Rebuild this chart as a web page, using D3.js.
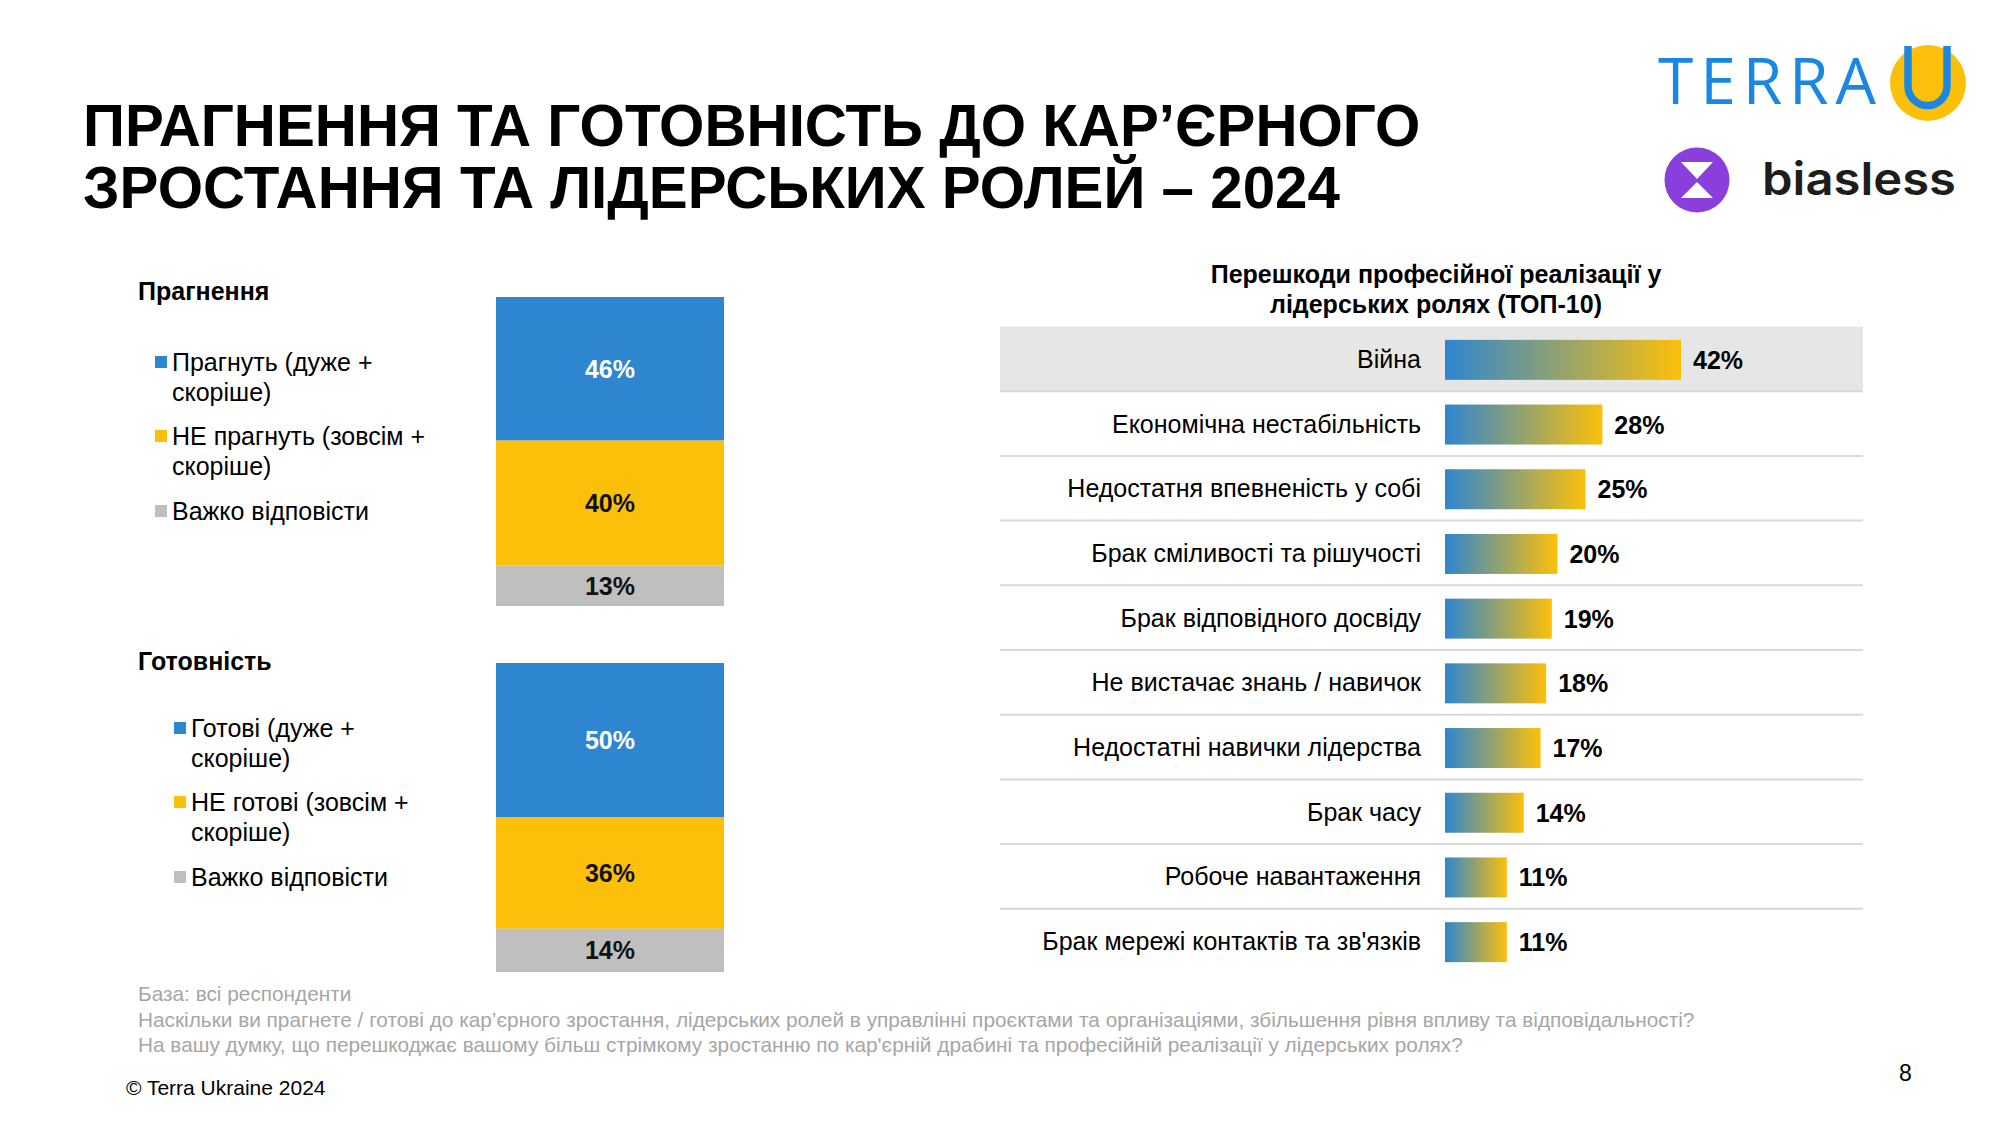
<!DOCTYPE html>
<html><head><meta charset="utf-8">
<script src="https://cdn.jsdelivr.net/npm/d3@7"></script>
<style>
html,body{margin:0;padding:0;background:#fff;}
svg{display:block;font-family:"Liberation Sans",Arial,sans-serif;}
</style></head>
<body>
<svg id="c" width="2000" height="1125"></svg>
<script>
// ---------- DATA ----------
const titleLines = ["ПРАГНЕННЯ ТА ГОТОВНІСТЬ ДО КАР’ЄРНОГО", "ЗРОСТАННЯ ТА ЛІДЕРСЬКИХ РОЛЕЙ – 2024"];
const segKeys = ["yes", "no", "hard"];
const segColors = ["#2e86d0", "#fcc00a", "#bfbfbf"];
const segLabelColors = ["#ffffff", "#111111", "#111111"];

const aspTitle = "Прагнення";
const aspLegend = [["Прагнуть (дуже +", "скоріше)"], ["НЕ прагнуть (зовсім +", "скоріше)"], ["Важко відповісти"]];
const aspValues = [46, 40, 13];

const readyTitle = "Готовність";
const readyLegend = [["Готові (дуже +", "скоріше)"], ["НЕ готові (зовсім +", "скоріше)"], ["Важко відповісти"]];
const readyValues = [50, 36, 14];

const barrTitle = ["Перешкоди професійної реалізації у", "лідерських ролях (ТОП-10)"];
const barrCategories = ["Війна", "Економічна нестабільність", "Недостатня впевненість у собі", "Брак сміливості та рішучості", "Брак відповідного досвіду", "Не вистачає знань / навичок", "Недостатні навички лідерства", "Брак часу", "Робоче навантаження", "Брак мережі контактів та зв'язків"];
const barrValues = [42, 28, 25, 20, 19, 18, 17, 14, 11, 11];

const footnotes = ["База: всі респонденти",
  "Наскільки ви прагнете / готові до кар’єрного зростання, лідерських ролей в управлінні проєктами та організаціями, збільшення рівня впливу та відповідальності?",
  "На вашу думку, що перешкоджає вашому більш стрімкому зростанню по кар'єрній драбині та професійній реалізації у лідерських ролях?"];
const copyright = "© Terra Ukraine 2024";
const pageNum = "8";

// ---------- DRAW ----------
const svg = d3.select("#c");
const defs = svg.append("defs");

// Title
svg.append("g").selectAll("text").data(titleLines).join("text")
  .attr("x", 83).attr("y", (d, i) => 146 + i * 62)
  .attr("font-size", 58.3).attr("font-weight", "bold").attr("fill", "#000")
  .text(d => d);

// Logos
const logo = svg.append("g");
logo.append("text").attr("x", 1658).attr("y", 104).attr("font-family", "'Open Sans', Lato, sans-serif")
  .attr("font-size", 64).attr("font-weight", 500).attr("fill", "#1a88e3")
  .attr("textLength", 218).attr("lengthAdjust", "spacing").text("TERRA");
logo.append("circle").attr("cx", 1928).attr("cy", 83).attr("r", 38).attr("fill", "#fcc00a");
logo.append("path").attr("d", "M1908,46 V86 A19.5,19.5 0 0 0 1947,86 V46")
  .attr("fill", "none").attr("stroke", "#1a88e3").attr("stroke-width", 7.5);
logo.append("circle").attr("cx", 1697).attr("cy", 180).attr("r", 32.5).attr("fill", "#8a3fdc");
logo.append("path").attr("d", "M1681,162 H1713 L1697,179 Z").attr("fill", "#fff");
logo.append("path").attr("d", "M1681,198 H1713 L1697,182 Z").attr("fill", "#fff");
logo.append("text").attr("x", 1762).attr("y", 195).attr("font-family", "Inter, 'Open Sans', sans-serif")
  .attr("font-size", 45).attr("font-weight", 600).attr("fill", "#1d1d1b")
  .attr("textLength", 194).attr("lengthAdjust", "spacingAndGlyphs").text("biasless");

// Stacked bar blocks
function stackBlock(cfg) {
  const g = svg.append("g");
  g.append("text").attr("x", 138).attr("y", cfg.titleY).attr("font-size", 25).attr("font-weight", "bold")
    .attr("fill", "#000").text(cfg.title);
  cfg.legend.forEach((lines, i) => {
    const by = cfg.legendY[i];
    g.append("rect").attr("x", cfg.sqX).attr("y", by - 15).attr("width", 12).attr("height", 12).attr("fill", segColors[i]);
    g.append("text").attr("font-size", 25).attr("fill", "#000")
      .selectAll("tspan").data(lines).join("tspan")
      .attr("x", cfg.sqX + 17).attr("y", (d, j) => by + j * 29.5).text(d => d);
  });
  const row = {}; segKeys.forEach((k, i) => row[k] = cfg.values[i]);
  const series = d3.stack().keys(segKeys).offset(d3.stackOffsetExpand)([row]);
  const y = d3.scaleLinear().domain([0, 1]).range([cfg.top, cfg.bottom]);
  const x = d3.scaleBand().domain([0]).range([496, 724]);
  g.selectAll("rect.seg").data(series).join("rect").attr("class", "seg")
    .attr("x", x(0)).attr("width", x.bandwidth())
    .attr("y", d => y(d[0][0])).attr("height", d => y(d[0][1]) - y(d[0][0]))
    .attr("fill", (d, i) => segColors[i]);
  g.selectAll("text.lab").data(series).join("text").attr("class", "lab")
    .attr("x", x(0) + x.bandwidth() / 2).attr("y", d => (y(d[0][0]) + y(d[0][1])) / 2 + 9)
    .attr("text-anchor", "middle").attr("font-size", 25).attr("font-weight", "bold")
    .attr("fill", (d, i) => segLabelColors[i]).text((d, i) => cfg.values[i] + "%");
}
stackBlock({ title: aspTitle, titleY: 300, legend: aspLegend, legendY: [371, 445, 520], sqX: 155, values: aspValues, top: 297, bottom: 606 });
stackBlock({ title: readyTitle, titleY: 670, legend: readyLegend, legendY: [737, 811, 886], sqX: 174, values: readyValues, top: 663, bottom: 972 });

// Barriers chart
const grad = defs.append("linearGradient").attr("id", "bg").attr("x1", "0").attr("x2", "1").attr("y1", "0").attr("y2", "0");
grad.append("stop").attr("offset", "0%").attr("stop-color", "#2e86d0");
grad.append("stop").attr("offset", "100%").attr("stop-color", "#fcc00a");

const rg = svg.append("g");
rg.append("text").attr("text-anchor", "middle").attr("font-size", 25).attr("font-weight", "bold").attr("fill", "#000")
  .selectAll("tspan").data(barrTitle).join("tspan").attr("x", 1436).attr("y", (d, i) => 283 + i * 29.5).text(d => d);

const yb = d3.scaleBand().domain(barrCategories).range([326.5, 326.5 + 64.7 * 10]).paddingInner(0).paddingOuter(0);
const xb = d3.scaleLinear().domain([0, 100]).range([1445, 1445 + 562]);
const barH = 40;

rg.append("rect").attr("x", 1000).attr("width", 863).attr("y", yb(barrCategories[0])).attr("height", yb.bandwidth()).attr("fill", "#e7e6e6");
rg.selectAll("line.sep").data(barrCategories.slice(0, -1)).join("line").attr("class", "sep")
  .attr("x1", 1000).attr("x2", 1863)
  .attr("y1", d => yb(d) + yb.bandwidth()).attr("y2", d => yb(d) + yb.bandwidth())
  .attr("stroke", "#d9d9d9").attr("stroke-width", 2);
rg.selectAll("text.cat").data(barrCategories).join("text").attr("class", "cat")
  .attr("x", 1421).attr("y", d => yb(d) + yb.bandwidth() / 2 + 9).attr("text-anchor", "end")
  .attr("font-size", 25).attr("fill", "#000").text(d => d);
rg.selectAll("rect.bar").data(barrValues).join("rect").attr("class", "bar")
  .attr("x", xb(0)).attr("y", (d, i) => yb(barrCategories[i]) + yb.bandwidth() / 2 - barH / 2 + 1)
  .attr("width", d => xb(d) - xb(0)).attr("height", barH).attr("fill", "url(#bg)");
rg.selectAll("text.val").data(barrValues).join("text").attr("class", "val")
  .attr("x", d => xb(d) + 12).attr("y", (d, i) => yb(barrCategories[i]) + yb.bandwidth() / 2 + 10)
  .attr("font-size", 25).attr("font-weight", "bold").attr("fill", "#000").text(d => d + "%");

// Footer
svg.append("g").selectAll("text").data(footnotes).join("text")
  .attr("x", 138).attr("y", (d, i) => 1001 + i * 25.5).attr("font-size", 20.8).attr("fill", "#a6a6a6").text(d => d);
svg.append("text").attr("x", 126).attr("y", 1095).attr("font-size", 21).attr("fill", "#000").text(copyright);
svg.append("text").attr("x", 1899).attr("y", 1081).attr("font-size", 23).attr("fill", "#000").text(pageNum);
</script>
</body></html>
